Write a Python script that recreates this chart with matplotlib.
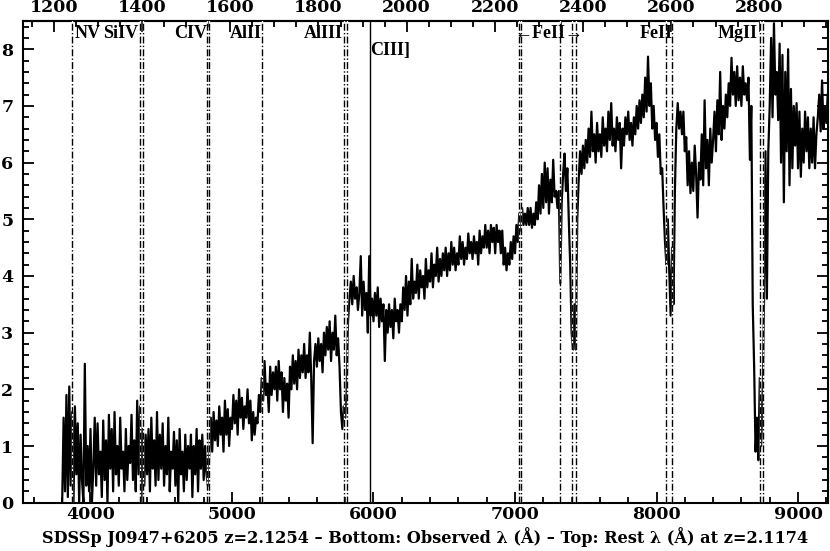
import numpy as np
import matplotlib
matplotlib.use("Agg")
import matplotlib.pyplot as plt
from matplotlib.ticker import MultipleLocator, FixedLocator

# ---------------------------------------------------------------------------
# Spectrum: flux in 10 A steps starting at 3800 A
# ---------------------------------------------------------------------------
WAVE_START = 3800.0
WAVE_STEP = 10.0
flux = [
    0.0, 1.5, 0.2, 1.9, 0.1, 2.05, 0.3, 1.6, 0.0, 1.7,      # 3800
    0.5, 1.4, 0.0, 1.2, 0.4, 0.0, 2.45, 0.3, 1.0, 0.2,      # 3900
    1.3, 0.0, 0.6, 1.5, 0.3, 1.4, 0.5, 0.9, 0.1, 1.45,      # 4000
    0.4, 1.1, 0.0, 1.55, 0.6, 1.3, 0.2, 1.6, 0.5, 1.0,      # 4100
    0.3, 1.5, 0.6, 0.9, 0.2, 1.3, 0.4, 1.0, 0.7, 1.55,      # 4200
    0.4, 1.1, 0.2, 1.8, 0.5, 1.7, 0.0, 1.3, 0.3, 1.2,       # 4300
    0.5, 1.3, 0.2, 1.5, 0.6, 1.1, 0.3, 1.6, 0.4, 1.2,       # 4400
    0.6, 1.4, 0.3, 1.0, 0.5, 1.5, 0.2, 0.9, 0.6, 1.25,      # 4500
    0.3, 1.1, 0.0, 1.3, 0.5, 0.9, 0.2, 1.2, 0.4, 1.0,       # 4600
    0.6, 1.2, 0.1, 1.0, 0.5, 1.3, 0.2, 1.1, 0.6, 1.2,       # 4700
    0.4, 1.0, 0.5, 0.3, 0.9, 1.5, 0.9, 1.6, 1.1, 1.45,      # 4800
    1.0, 1.7, 1.2, 1.5, 0.9, 1.8, 1.2, 1.65, 1.0, 1.5,      # 4900
    1.3, 1.9, 1.4, 1.8, 1.2, 2.0, 1.5, 1.85, 1.3, 1.7,      # 5000
    1.5, 2.0, 1.4, 1.8, 1.1, 1.6, 1.2, 1.5, 1.4, 1.9,       # 5100
    1.6, 2.2, 1.8, 2.5, 1.9, 2.1, 1.6, 2.4, 1.9, 2.3,       # 5200
    2.0, 2.4, 1.8, 2.5, 2.0, 2.3, 1.6, 2.2, 1.8, 2.1,       # 5300
    1.5, 2.4, 2.0, 2.6, 2.1, 2.5, 2.0, 2.7, 2.2, 2.6,       # 5400
    2.3, 2.8, 2.2, 2.6, 2.3, 3.0, 2.2, 1.05, 2.5, 2.8,      # 5500
    2.4, 2.9, 2.5, 2.8, 2.3, 3.0, 2.6, 3.1, 2.7, 3.2,       # 5600
    2.5, 3.0, 2.7, 3.3, 2.6, 2.9, 2.4, 1.6, 1.3, 1.7,       # 5700
    1.5, 2.0, 3.2, 3.6, 3.9, 3.5, 4.0, 3.6, 3.8, 3.4,       # 5800
    3.7, 4.35, 3.3, 3.9, 3.4, 3.7, 3.0, 4.35, 3.3, 3.6,     # 5900
    3.2, 3.7, 3.3, 3.8, 3.1, 3.6, 3.2, 3.5, 2.5, 3.4,       # 6000
    3.0, 3.5, 3.1, 3.4, 2.9, 3.6, 3.2, 3.4, 3.0, 3.5,       # 6100
    3.2, 3.8, 3.4, 4.0, 3.3, 3.9, 3.5, 4.3, 3.6, 3.9,       # 6200
    3.7, 4.2, 3.6, 4.1, 3.8, 4.0, 3.6, 4.3, 3.8, 4.1,       # 6300
    3.9, 4.4, 3.8, 4.2, 4.0, 4.5, 3.9, 4.3, 4.0, 4.4,       # 6400
    4.1, 4.5, 4.0, 4.4, 4.1, 4.6, 4.2, 4.5, 4.1, 4.4,       # 6500
    4.2, 4.7, 4.3, 4.6, 4.2, 4.5, 4.3, 4.75, 4.4, 4.6,      # 6600
    4.3, 4.7, 4.4, 4.6, 4.2, 4.8, 4.4, 4.7, 4.5, 4.9,       # 6700
    4.5, 4.8, 4.4, 4.9, 4.6, 4.85, 4.4, 4.9, 4.6, 4.8,      # 6800
    4.4, 4.8, 4.2, 4.5, 4.1, 4.4, 4.2, 4.6, 4.3, 4.7,       # 6900
    4.4, 4.9, 4.6, 5.1, 4.8, 5.2, 4.9, 5.1, 4.9, 5.2,       # 7000
    4.9, 5.2, 4.85, 5.1, 4.9, 5.3, 5.0, 5.6, 5.1, 5.8,      # 7100
    5.2, 6.0, 5.3, 5.9, 5.1, 5.7, 5.3, 6.05, 5.4, 5.5,      # 7200
    5.2, 5.5, 3.87, 5.3, 5.8, 6.16, 5.5, 5.9, 5.0, 4.2,     # 7300
    3.0, 2.7, 3.5, 2.7, 5.0, 5.7, 6.2, 5.8, 6.3, 5.9,       # 7400
    6.4, 6.0, 6.6, 6.1, 6.9, 6.2, 6.5, 6.0, 6.7, 6.2,       # 7500
    6.5, 6.1, 6.8, 6.3, 6.6, 6.2, 6.9, 6.4, 7.05, 6.3,      # 7600
    6.6, 6.2, 6.8, 6.4, 6.7, 5.9, 6.6, 6.3, 6.8, 6.5,       # 7700
    6.9, 6.4, 6.7, 6.3, 6.8, 6.5, 7.0, 6.6, 7.1, 6.7,       # 7800
    7.2, 6.8, 7.5, 6.9, 7.87, 7.0, 7.4, 6.6, 7.0, 6.4,      # 7900
    6.7, 6.1, 6.5, 5.8, 5.9, 5.2, 4.6, 4.2, 5.0, 4.1,       # 8000
    3.3, 4.5, 3.5, 5.5, 6.6, 7.05, 6.6, 6.9, 6.5, 6.9,      # 8100
    6.2, 6.45, 5.6, 6.2, 5.46, 6.0, 5.5, 6.3, 5.8, 5.03,    # 8200
    6.0, 5.7, 6.5, 5.6, 7.1, 5.9, 6.4, 5.6, 6.6, 6.0,       # 8300
    6.4, 6.9, 6.2, 7.1, 6.5, 7.6, 6.4, 7.0, 6.6, 7.2,       # 8400
    6.8, 7.4, 7.0, 7.85, 7.2, 7.6, 7.0, 7.7, 7.1, 7.5,      # 8500
    7.0, 7.7, 7.2, 7.4, 7.1, 7.5, 6.05, 7.0, 3.5, 2.4,      # 8600
    0.9, 1.5, 0.75, 2.2, 1.0, 1.8, 3.6, 6.2, 3.6, 6.2,      # 8700
    7.0, 8.2, 6.8, 8.46, 7.2, 7.6, 6.75, 8.1, 6.0, 7.9,     # 8800
    5.3, 7.6, 6.2, 8.0, 5.6, 7.3, 5.9, 7.0, 6.3, 7.05,      # 8900
    5.9, 6.9, 5.75, 6.6, 6.0, 6.9, 6.2, 6.8, 5.9, 6.6,      # 9000
    6.0, 6.8, 5.9, 6.5, 6.8, 7.2, 6.55, 7.45, 6.6, 7.0,     # 9100
    6.7, 7.2,                                               # 9200
]
wave = WAVE_START + WAVE_STEP * np.arange(len(flux))

Z_EMIT = 2.1254
Z_ABS = 2.1174

# absorption-line markers (observed wavelength, A) and the CIII] emission line
abs_lines = [3867, 4350, 4369, 4826, 4840, 5211, 5793, 5816,
             7025, 7044, 7320, 7403, 7431, 8069, 8110, 8730, 8754]
emit_lines = [5972]

line_names = ["NV", "SiIV", "CIV", "AlII", "AlIII", "CIII]",
              "\u2190FeII\u2192", "FeII", "MgII"]
name_wave = [3890, 4336, 4823, 5214, 5786, 5975, 7237, 8112, 8714]
name_flux = [8.28, 8.28, 8.28, 8.28, 8.28, 7.97, 8.28, 8.28, 8.28]
name_ha = ["left", "right", "right", "right", "right", "left",
           "center", "right", "right"]

rest_ticks = [1200, 1400, 1600, 1800, 2000, 2200, 2400, 2600, 2800]

caption = ("SDSSp J0947+6205 z=2.1254 \u2013 Bottom: Observed \u03bb (\u00c5) "
           "\u2013 Top: Rest \u03bb (\u00c5) at z=2.1174")

# ---------------------------------------------------------------------------
# Plot
# ---------------------------------------------------------------------------
plt.rcParams["font.family"] = ["DejaVu Serif"]
plt.rcParams["font.weight"] = "bold"
TICK_FS = 12.5

fig = plt.figure(figsize=(8.30, 5.51), dpi=100)
ax = fig.add_axes([0.0277, 0.0877, 0.9699, 0.8733])

ax.plot(wave, flux, color="black", lw=1.6, zorder=2)

dash = (0, (5, 1.6, 1.0, 1.6))
for w in abs_lines:
    ax.axvline(w, color="white", lw=1.0, zorder=3)
    ax.axvline(w, color="black", lw=1.0, linestyle=dash, zorder=4)
for w in emit_lines:
    ax.axvline(w, color="black", lw=1.0, zorder=4)

for name, w, f, ha in zip(line_names, name_wave, name_flux, name_ha):
    ax.text(w, f, name, ha=ha, va="center", fontsize=13, zorder=5,
            family=["Liberation Serif", "DejaVu Serif"], weight="bold")

ax.set_xlim(3523, 9212)
ax.set_ylim(0, 8.49)

ax.xaxis.set_major_locator(MultipleLocator(1000))
ax.xaxis.set_minor_locator(MultipleLocator(200))
ax.yaxis.set_major_locator(MultipleLocator(1))
ax.yaxis.set_minor_locator(MultipleLocator(0.2))
ax.tick_params(which="both", direction="in", right=True, width=1.3,
               labelsize=TICK_FS)
ax.tick_params(which="major", length=8)
ax.tick_params(which="minor", length=4.5)
ax.tick_params(axis="x", pad=2.5)
ax.tick_params(axis="y", pad=7)

top = ax.secondary_xaxis("top", functions=(lambda x: x / (1 + Z_ABS),
                                           lambda x: x * (1 + Z_ABS)))
top.xaxis.set_major_locator(FixedLocator(rest_ticks))
top.xaxis.set_minor_locator(MultipleLocator(50))
top.tick_params(which="both", direction="in", width=1.3,
                labelsize=TICK_FS, pad=4)
top.tick_params(which="major", length=8)
top.tick_params(which="minor", length=4.5)

for sp in list(ax.spines.values()) + [top.spines["top"]]:
    sp.set_linewidth(1.5)

fig.text(0.512, 0.0254, caption, ha="center", va="center", fontsize=11.6)

fig.savefig("out.png", dpi=100)
plt.close(fig)
